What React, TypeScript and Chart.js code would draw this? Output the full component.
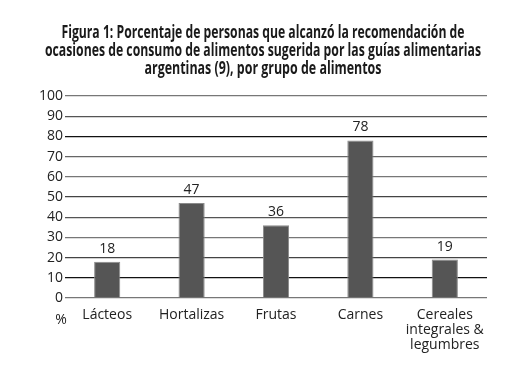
import React, { useEffect, useRef } from "react";
import { Chart, registerables } from "chart.js";
Chart.register(...registerables);

const titleLines = [
  "Figura 1: Porcentaje de personas que alcanzó la recomendación de",
  "ocasiones de consumo de alimentos sugerida por las guías alimentarias",
  "argentinas (9), por grupo de alimentos",
];
const categories: (string | string[])[] = [
  "Lácteos",
  "Hortalizas",
  "Frutas",
  "Carnes",
  ["Cereales", "integrales &", "legumbres"],
];
const values = [18, 47, 36, 78, 19];
const yTicks = [0, 10, 20, 30, 40, 50, 60, 70, 80, 90, 100];
const yUnit = "%";

const FONT = "'Open Sans', 'Noto Sans', sans-serif";
const gridColors = ["#777", "#111", "#444", "#777", "#555", "#444", "#777", "#666", "#111", "#555", "#777"];

export default function App() {
  const ref = useRef<HTMLCanvasElement>(null);
  useEffect(() => {
    document.body.style.margin = "0";
    const labelPlugin = {
      id: "valueLabels",
      afterDatasetsDraw(chart: any) {
        const ctx = chart.ctx;
        const meta = chart.getDatasetMeta(0);
        ctx.save();
        ctx.fillStyle = "#222";
        ctx.font = `14px ${FONT}`;
        ctx.textAlign = "center";
        ctx.textBaseline = "alphabetic";
        meta.data.forEach((bar: any, i: number) => {
          ctx.fillText(String(values[i]), bar.x, bar.y - 9);
        });
        const ys = chart.scales.y;
        ctx.textAlign = "center";
        ctx.fillText(yUnit, 61, ys.getPixelForValue(0) + 26);
        // title
        ctx.fillStyle = "#1a1a1a";
        ctx.font = "bold 17.5px 'Open Sans', sans-serif";
        const widths = [403, 436, 237];
        const baselines = [38, 56, 74];
        titleLines.forEach((t, i) => {
          ctx.fillText(t, 263, baselines[i], widths[i]);
        });
        ctx.restore();
      },
    };
    const chart = new Chart(ref.current!, {
      type: "bar",
      data: {
        labels: categories,
        datasets: [
          {
            data: values,
            backgroundColor: "#555555",
            borderColor: "#8a8a8a",
            borderWidth: 1,
            categoryPercentage: 1,
            barPercentage: 0.31,
          },
        ],
      },
      options: {
        animation: false,
        responsive: false,
        layout: { padding: { left: 0, right: 39, top: 96, bottom: 0 } },
        plugins: {
          legend: { display: false },
          tooltip: { enabled: false },
          title: { display: false },
        },
        scales: {
          y: {
            min: 0,
            max: 100,
            afterBuildTicks: (s: any) => {
              s.ticks = yTicks.map((v) => ({ value: v }));
            },
            afterFit: (s: any) => {
              s.width = 65;
            },
            ticks: { color: "#222", font: { family: FONT, size: 14 }, padding: 2 },
            grid: {
              color: (c: any) => gridColors[c.index] || "#666",
              lineWidth: 1.3,
              drawTicks: false,
            },
            border: { display: false },
          },
          x: {
            afterFit: (s: any) => {
              s.height = 83;
            },
            ticks: { color: "#222", font: { family: FONT, size: 14, lineHeight: 1.1 }, maxRotation: 0, autoSkip: false, padding: 1 },
            grid: { display: false },
            border: { display: false },
          },
        },
      },
      plugins: [labelPlugin],
    });
    return () => chart.destroy();
  }, []);
  return <canvas ref={ref} width={526} height={381} style={{ display: "block" }} />;
}
